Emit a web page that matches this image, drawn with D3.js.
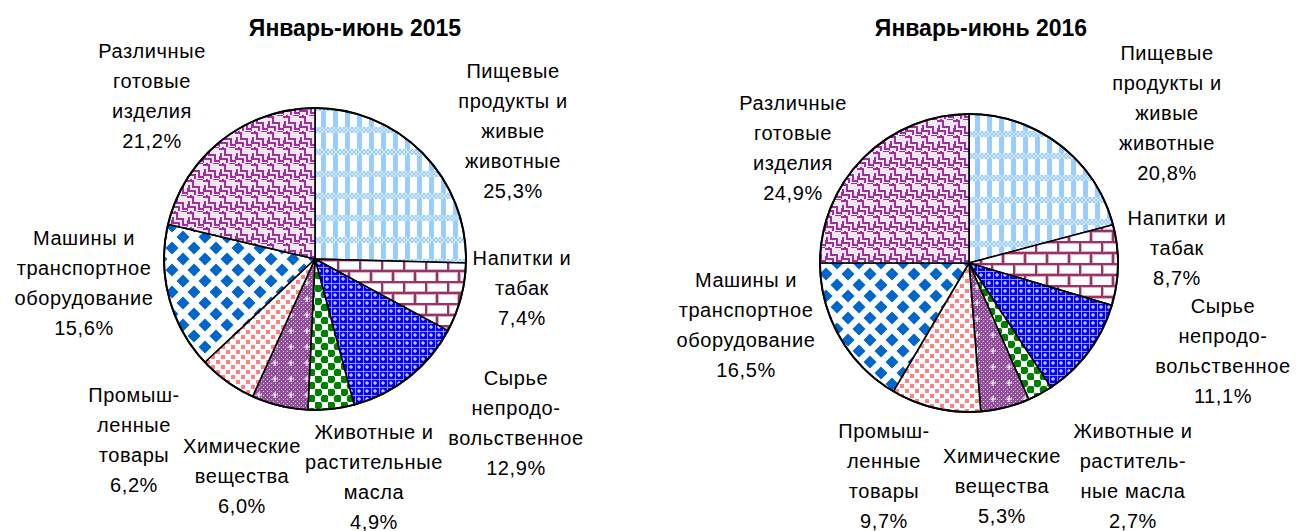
<!DOCTYPE html>
<html>
<head>
<meta charset="utf-8">
<script src="https://cdn.jsdelivr.net/npm/d3@7"></script>
<style>
body { margin: 0; background: #fff; }
text { font-family: "Liberation Sans", Arial, sans-serif; fill: #000; }
</style>
</head>
<body>
<script>
// data
var categories = [
  "Пищевые продукты и живые животные",
  "Напитки и табак",
  "Сырье непродовольственное",
  "Животные и растительные масла",
  "Химические вещества",
  "Промышленные товары",
  "Машины и транспортное оборудование",
  "Различные готовые изделия"
];
var titles = ["Январь-июнь 2015", "Январь-июнь 2016"];
var values2015 = [25.3, 7.4, 12.9, 4.9, 6.0, 6.2, 15.6, 21.2];
var values2016 = [20.8, 8.7, 11.1, 2.7, 5.3, 9.7, 16.5, 24.9];
var labelLines2015 = [
  ["Пищевые", "продукты и", "живые", "животные"],
  ["Напитки и", "табак"],
  ["Сырье", "непродо-", "вольственное"],
  ["Животные и", "растительные", "масла"],
  ["Химические", "вещества"],
  ["Промыш-", "ленные", "товары"],
  ["Машины и", "транспортное", "оборудование"],
  ["Различные", "готовые", "изделия"]
];
var labelLines2016 = [
  ["Пищевые", "продукты и", "живые", "животные"],
  ["Напитки и", "табак"],
  ["Сырье", "непродо-", "вольственное"],
  ["Животные и", "раститель-", "ные масла"],
  ["Химические", "вещества"],
  ["Промыш-", "ленные", "товары"],
  ["Машины и", "транспортное", "оборудование"],
  ["Различные", "готовые", "изделия"]
];

// layout
var W = 1296, H = 531;
var charts = [
  { title: titles[0], values: values2015, lines: labelLines2015, cx: 315, cy: 259, r: 151, tx: 355, ty: 36,
    labels: [[513, 78], [522, 265], [516, 385], [374, 439], [242, 453], [134, 402], [84, 245], [152, 58]] },
  { title: titles[1], values: values2016, lines: labelLines2016, cx: 969, cy: 263, r: 149, tx: 981, ty: 36,
    labels: [[1167, 60], [1177, 225], [1223, 313], [1133, 438], [1002, 463], [884, 438], [746, 287], [793, 110]] }
];
var lineH = 30;
var fmt = function(v) { return d3.format(".1f")(v).replace(".", ",") + "%"; };

var svg = d3.select("body").append("svg")
  .attr("width", W)
  .attr("height", H);

// hatch patterns, one per category
var defs = svg.append("defs");
function pat(id, w, h) {
  var p = defs.append("pattern").attr("id", id)
    .attr("patternUnits", "userSpaceOnUse")
    .attr("width", w).attr("height", h);
  p.append("rect").attr("width", w).attr("height", h).attr("fill", "#fff");
  return p;
}
var i, j;

// 0 food: light blue plaid
var p0 = pat("p0", 12, 22);
p0.append("rect").attr("x", 6).attr("y", 0).attr("width", 5).attr("height", 22).attr("fill", "#99ccff");
p0.append("rect").attr("x", 0).attr("y", 0).attr("width", 12).attr("height", 6).attr("fill", "#d6eaff");
for (i = 0; i < 6; i++) for (j = 0; j < 3; j++) if ((i + j) % 2 == 0)
  p0.append("rect").attr("x", i * 2).attr("y", j * 2).attr("width", 2).attr("height", 2).attr("fill", "#99ccff");

// 1 drinks: bricks
var p1 = pat("p1", 22, 22);
p1.append("path").attr("d", "M0,1H22M0,12H22M1,1V12M12,12V22")
  .attr("stroke", "#d9afc5").attr("stroke-width", 4).attr("fill", "none");
p1.append("path").attr("d", "M0,1H22M0,12H22M1,1V12M12,12V22")
  .attr("stroke", "#993366").attr("stroke-width", 2).attr("fill", "none");

// 2 raw: blue with white grid
var p2 = pat("p2", 8, 8);
p2.append("rect").attr("width", 8).attr("height", 8).attr("fill", "#0000ff");
p2.append("path").attr("d", "M0,0.5H8M0.5,0V8").attr("stroke", "#9999ff").attr("stroke-width", 1);
p2.append("path").attr("d", "M4,2V6M2,4H6").attr("stroke", "#fff").attr("stroke-width", 1);

// 3 oils: green balls
var p3 = pat("p3", 13, 13);
p3.append("circle").attr("cx", 3.2).attr("cy", 3.2).attr("r", 4).attr("fill", "#008000");
p3.append("circle").attr("cx", 9.7).attr("cy", 9.7).attr("r", 4).attr("fill", "#008000");
p3.append("rect").attr("x", 7.5).attr("y", 1).attr("width", 4.5).attr("height", 4.5).attr("fill", "#fff");

// 4 chemicals: fine purple checker with sparkles
var p4 = pat("p4", 16, 16);
p4.append("rect").attr("width", 16).attr("height", 16).attr("fill", "#93509a");
for (i = 0; i < 8; i++) for (j = 0; j < 8; j++) if ((i + j) % 2 == 0)
  p4.append("rect").attr("x", i * 2).attr("y", j * 2).attr("width", 1).attr("height", 1).attr("fill", "#e8d0ea");
p4.append("path").attr("d", "M8,5V11M5,8H11").attr("stroke", "#fff").attr("stroke-width", 1.2);

// 5 industrial: pink squares
var p5 = pat("p5", 10, 10);
p5.append("rect").attr("x", 1).attr("y", 1).attr("width", 4).attr("height", 4).attr("fill", "#ff8080");
p5.append("rect").attr("x", 6).attr("y", 6).attr("width", 4).attr("height", 4).attr("fill", "#ff8080");

// 6 machinery: blue diamonds
var p6 = pat("p6", 22, 22);
p6.append("path").attr("d", "M0,-6.5L6.5,0L0,6.5L-6.5,0ZM22,-6.5L28.5,0L22,6.5L15.5,0ZM0,15.5L6.5,22L0,28.5L-6.5,22ZM22,15.5L28.5,22L22,28.5L15.5,22ZM11,4.5L17.5,11L11,17.5L4.5,11Z")
  .attr("fill", "#0066cc");

// 7 various: purple weave
var p7 = pat("p7", 16, 16);
p7.append("rect").attr("width", 16).attr("height", 16).attr("fill", "#f3e6f3");
p7.append("path").attr("d", "M0,2H6V8H12V14H16M-4,10H0V16M4,0V2M10,0H16M2,6V12H8V16")
  .attr("stroke", "#993399").attr("stroke-width", 2).attr("fill", "none");

var pie = d3.pie().sort(null).startAngle(0).endAngle(2 * Math.PI);

charts.forEach(function(c) {
  var g = svg.append("g").attr("transform", "translate(" + c.cx + "," + c.cy + ")");
  var arc = d3.arc().innerRadius(0).outerRadius(c.r);

  g.selectAll("path.slice")
    .data(pie(c.values))
    .enter()
    .append("path")
    .attr("class", "slice")
    .attr("d", arc)
    .attr("fill", function(d, k) { return "url(#p" + k + ")"; })
    .attr("stroke", "#000")
    .attr("stroke-width", 1.6)
    .attr("stroke-linejoin", "round");

  g.append("circle").attr("r", c.r).attr("fill", "none")
    .attr("stroke", "#000").attr("stroke-width", 2);

  svg.append("text")
    .attr("x", c.tx).attr("y", c.ty)
    .attr("text-anchor", "middle")
    .attr("font-weight", "bold")
    .attr("font-size", 23)
    .text(c.title);

  c.values.forEach(function(v, k) {
    var t = svg.append("text")
      .attr("text-anchor", "middle")
      .attr("font-size", 20)
      .attr("letter-spacing", "0.6px");
    var lines = c.lines[k].concat([fmt(v)]);
    lines.forEach(function(s, n) {
      t.append("tspan")
        .attr("x", c.labels[k][0])
        .attr("y", c.labels[k][1] + n * lineH)
        .text(s);
    });
  });
});
</script>
</body>
</html>
